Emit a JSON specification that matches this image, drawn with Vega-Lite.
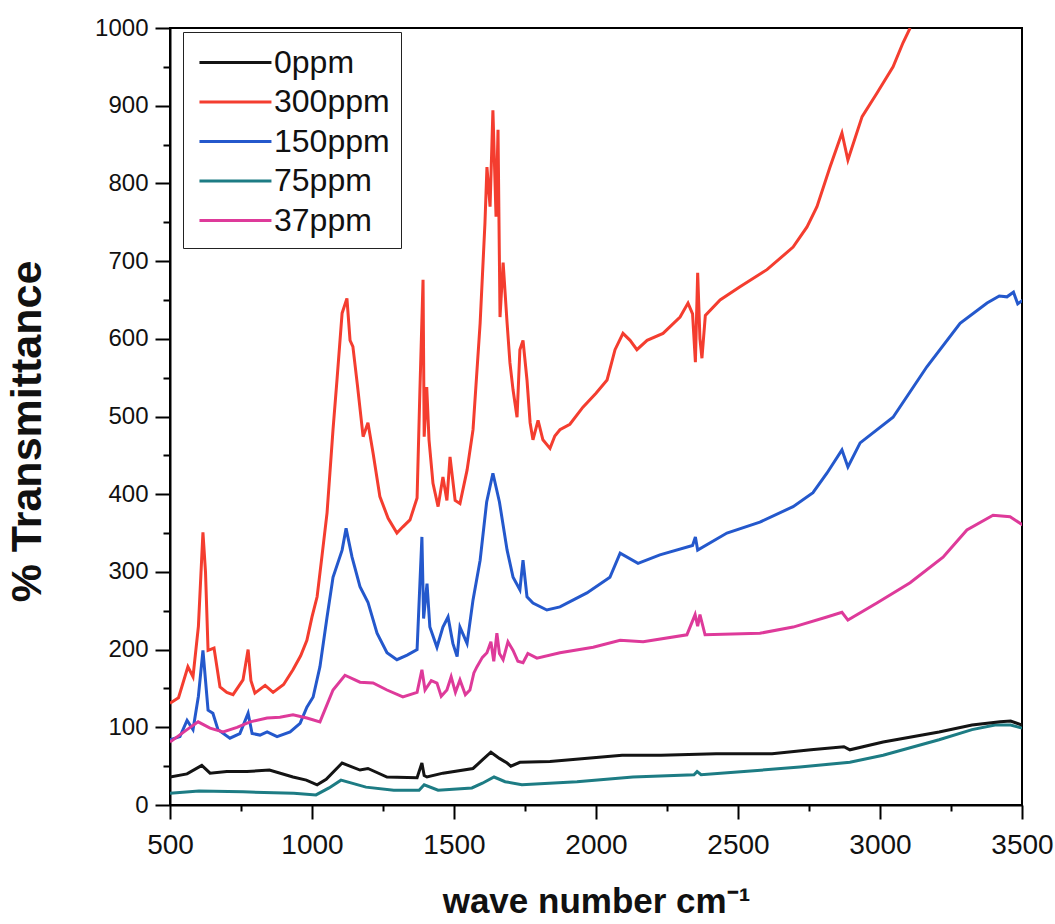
{
  "$schema": "https://vega.github.io/schema/vega-lite/v6.json",
  "width": 852,
  "height": 777,
  "autosize": "none",
  "padding": {"left": 170, "top": 28, "right": 33, "bottom": 119},
  "background": "white",
  "config": {
    "view": {"stroke": "black", "strokeWidth": 2},
    "font": "Liberation Sans, Arial, sans-serif"
  },
  "datasets": {
    "spec": [
      {"s":"300ppm","x":500,"y":131},{"s":"300ppm","x":530,"y":138},{"s":"300ppm","x":563,"y":178},{"s":"300ppm","x":581,"y":165},{"s":"300ppm","x":600,"y":230},{"s":"300ppm","x":616,"y":351},{"s":"300ppm","x":625,"y":300},{"s":"300ppm","x":634,"y":199},{"s":"300ppm","x":655,"y":202},{"s":"300ppm","x":676,"y":152},{"s":"300ppm","x":700,"y":145},{"s":"300ppm","x":722,"y":142},{"s":"300ppm","x":757,"y":161},{"s":"300ppm","x":775,"y":200},{"s":"300ppm","x":785,"y":160},{"s":"300ppm","x":799,"y":144},{"s":"300ppm","x":835,"y":154},{"s":"300ppm","x":863,"y":145},{"s":"300ppm","x":900,"y":155},{"s":"300ppm","x":933,"y":174},{"s":"300ppm","x":960,"y":192},{"s":"300ppm","x":982,"y":212},{"s":"300ppm","x":1000,"y":242},{"s":"300ppm","x":1018,"y":268},{"s":"300ppm","x":1035,"y":320},{"s":"300ppm","x":1053,"y":376},{"s":"300ppm","x":1074,"y":483},{"s":"300ppm","x":1088,"y":547},{"s":"300ppm","x":1106,"y":633},{"s":"300ppm","x":1123,"y":652},{"s":"300ppm","x":1134,"y":598},{"s":"300ppm","x":1144,"y":590},{"s":"300ppm","x":1160,"y":540},{"s":"300ppm","x":1180,"y":474},{"s":"300ppm","x":1197,"y":492},{"s":"300ppm","x":1215,"y":453},{"s":"300ppm","x":1239,"y":397},{"s":"300ppm","x":1268,"y":369},{"s":"300ppm","x":1299,"y":350},{"s":"300ppm","x":1320,"y":358},{"s":"300ppm","x":1345,"y":367},{"s":"300ppm","x":1370,"y":395},{"s":"300ppm","x":1380,"y":534},{"s":"300ppm","x":1391,"y":676},{"s":"300ppm","x":1395,"y":474},{"s":"300ppm","x":1404,"y":538},{"s":"300ppm","x":1412,"y":470},{"s":"300ppm","x":1426,"y":414},{"s":"300ppm","x":1444,"y":384},{"s":"300ppm","x":1461,"y":422},{"s":"300ppm","x":1475,"y":392},{"s":"300ppm","x":1486,"y":448},{"s":"300ppm","x":1504,"y":392},{"s":"300ppm","x":1521,"y":388},{"s":"300ppm","x":1546,"y":431},{"s":"300ppm","x":1567,"y":483},{"s":"300ppm","x":1592,"y":620},{"s":"300ppm","x":1609,"y":749},{"s":"300ppm","x":1616,"y":821},{"s":"300ppm","x":1627,"y":770},{"s":"300ppm","x":1637,"y":894},{"s":"300ppm","x":1648,"y":757},{"s":"300ppm","x":1655,"y":869},{"s":"300ppm","x":1662,"y":628},{"s":"300ppm","x":1673,"y":698},{"s":"300ppm","x":1687,"y":620},{"s":"300ppm","x":1697,"y":569},{"s":"300ppm","x":1708,"y":534},{"s":"300ppm","x":1722,"y":499},{"s":"300ppm","x":1732,"y":586},{"s":"300ppm","x":1743,"y":598},{"s":"300ppm","x":1757,"y":547},{"s":"300ppm","x":1768,"y":492},{"s":"300ppm","x":1778,"y":470},{"s":"300ppm","x":1796,"y":495},{"s":"300ppm","x":1813,"y":470},{"s":"300ppm","x":1838,"y":459},{"s":"300ppm","x":1855,"y":475},{"s":"300ppm","x":1873,"y":483},{"s":"300ppm","x":1908,"y":490},{"s":"300ppm","x":1954,"y":512},{"s":"300ppm","x":2000,"y":530},{"s":"300ppm","x":2039,"y":547},{"s":"300ppm","x":2067,"y":586},{"s":"300ppm","x":2095,"y":607},{"s":"300ppm","x":2120,"y":598},{"s":"300ppm","x":2144,"y":586},{"s":"300ppm","x":2180,"y":598},{"s":"300ppm","x":2236,"y":607},{"s":"300ppm","x":2296,"y":628},{"s":"300ppm","x":2324,"y":646},{"s":"300ppm","x":2340,"y":632},{"s":"300ppm","x":2350,"y":570},{"s":"300ppm","x":2358,"y":685},{"s":"300ppm","x":2366,"y":600},{"s":"300ppm","x":2373,"y":575},{"s":"300ppm","x":2385,"y":630},{"s":"300ppm","x":2437,"y":650},{"s":"300ppm","x":2507,"y":667},{"s":"300ppm","x":2602,"y":689},{"s":"300ppm","x":2694,"y":718},{"s":"300ppm","x":2743,"y":744},{"s":"300ppm","x":2778,"y":770},{"s":"300ppm","x":2824,"y":821},{"s":"300ppm","x":2866,"y":865},{"s":"300ppm","x":2887,"y":830},{"s":"300ppm","x":2937,"y":886},{"s":"300ppm","x":2989,"y":916},{"s":"300ppm","x":3046,"y":950},{"s":"300ppm","x":3081,"y":981},{"s":"300ppm","x":3106,"y":1000},

      {"s":"150ppm","x":500,"y":84},{"s":"150ppm","x":535,"y":88},{"s":"150ppm","x":560,"y":109},{"s":"150ppm","x":581,"y":97},{"s":"150ppm","x":600,"y":140},{"s":"150ppm","x":616,"y":199},{"s":"150ppm","x":634,"y":122},{"s":"150ppm","x":651,"y":118},{"s":"150ppm","x":669,"y":97},{"s":"150ppm","x":711,"y":86},{"s":"150ppm","x":746,"y":92},{"s":"150ppm","x":775,"y":118},{"s":"150ppm","x":789,"y":92},{"s":"150ppm","x":817,"y":90},{"s":"150ppm","x":842,"y":94},{"s":"150ppm","x":877,"y":88},{"s":"150ppm","x":923,"y":94},{"s":"150ppm","x":958,"y":105},{"s":"150ppm","x":982,"y":126},{"s":"150ppm","x":1004,"y":139},{"s":"150ppm","x":1028,"y":178},{"s":"150ppm","x":1053,"y":242},{"s":"150ppm","x":1074,"y":293},{"s":"150ppm","x":1106,"y":328},{"s":"150ppm","x":1120,"y":356},{"s":"150ppm","x":1141,"y":319},{"s":"150ppm","x":1169,"y":281},{"s":"150ppm","x":1197,"y":261},{"s":"150ppm","x":1229,"y":221},{"s":"150ppm","x":1264,"y":196},{"s":"150ppm","x":1299,"y":187},{"s":"150ppm","x":1335,"y":193},{"s":"150ppm","x":1370,"y":200},{"s":"150ppm","x":1387,"y":345},{"s":"150ppm","x":1393,"y":240},{"s":"150ppm","x":1405,"y":285},{"s":"150ppm","x":1415,"y":229},{"s":"150ppm","x":1440,"y":203},{"s":"150ppm","x":1461,"y":229},{"s":"150ppm","x":1479,"y":242},{"s":"150ppm","x":1496,"y":208},{"s":"150ppm","x":1511,"y":191},{"s":"150ppm","x":1521,"y":229},{"s":"150ppm","x":1546,"y":208},{"s":"150ppm","x":1567,"y":264},{"s":"150ppm","x":1592,"y":315},{"s":"150ppm","x":1615,"y":390},{"s":"150ppm","x":1637,"y":427},{"s":"150ppm","x":1660,"y":390},{"s":"150ppm","x":1687,"y":328},{"s":"150ppm","x":1708,"y":293},{"s":"150ppm","x":1732,"y":277},{"s":"150ppm","x":1743,"y":315},{"s":"150ppm","x":1757,"y":268},{"s":"150ppm","x":1778,"y":260},{"s":"150ppm","x":1827,"y":251},{"s":"150ppm","x":1873,"y":255},{"s":"150ppm","x":1968,"y":273},{"s":"150ppm","x":2049,"y":293},{"s":"150ppm","x":2085,"y":324},{"s":"150ppm","x":2148,"y":311},{"s":"150ppm","x":2225,"y":322},{"s":"150ppm","x":2340,"y":334},{"s":"150ppm","x":2350,"y":345},{"s":"150ppm","x":2358,"y":328},{"s":"150ppm","x":2461,"y":350},{"s":"150ppm","x":2577,"y":364},{"s":"150ppm","x":2694,"y":384},{"s":"150ppm","x":2764,"y":402},{"s":"150ppm","x":2813,"y":427},{"s":"150ppm","x":2866,"y":457},{"s":"150ppm","x":2887,"y":435},{"s":"150ppm","x":2930,"y":466},{"s":"150ppm","x":3046,"y":499},{"s":"150ppm","x":3165,"y":564},{"s":"150ppm","x":3282,"y":620},{"s":"150ppm","x":3377,"y":646},{"s":"150ppm","x":3420,"y":655},{"s":"150ppm","x":3447,"y":654},{"s":"150ppm","x":3470,"y":660},{"s":"150ppm","x":3485,"y":645},{"s":"150ppm","x":3504,"y":650},

      {"s":"37ppm","x":500,"y":81},{"s":"37ppm","x":560,"y":97},{"s":"37ppm","x":599,"y":107},{"s":"37ppm","x":641,"y":99},{"s":"37ppm","x":687,"y":94},{"s":"37ppm","x":736,"y":100},{"s":"37ppm","x":782,"y":107},{"s":"37ppm","x":842,"y":112},{"s":"37ppm","x":887,"y":113},{"s":"37ppm","x":933,"y":116},{"s":"37ppm","x":982,"y":112},{"s":"37ppm","x":1028,"y":107},{"s":"37ppm","x":1074,"y":148},{"s":"37ppm","x":1116,"y":167},{"s":"37ppm","x":1169,"y":158},{"s":"37ppm","x":1215,"y":157},{"s":"37ppm","x":1264,"y":148},{"s":"37ppm","x":1320,"y":139},{"s":"37ppm","x":1370,"y":145},{"s":"37ppm","x":1387,"y":174},{"s":"37ppm","x":1398,"y":148},{"s":"37ppm","x":1420,"y":160},{"s":"37ppm","x":1440,"y":157},{"s":"37ppm","x":1455,"y":140},{"s":"37ppm","x":1475,"y":148},{"s":"37ppm","x":1490,"y":165},{"s":"37ppm","x":1505,"y":145},{"s":"37ppm","x":1521,"y":161},{"s":"37ppm","x":1540,"y":142},{"s":"37ppm","x":1556,"y":148},{"s":"37ppm","x":1570,"y":170},{"s":"37ppm","x":1581,"y":178},{"s":"37ppm","x":1600,"y":190},{"s":"37ppm","x":1616,"y":196},{"s":"37ppm","x":1630,"y":210},{"s":"37ppm","x":1640,"y":185},{"s":"37ppm","x":1651,"y":221},{"s":"37ppm","x":1660,"y":195},{"s":"37ppm","x":1673,"y":187},{"s":"37ppm","x":1690,"y":210},{"s":"37ppm","x":1708,"y":199},{"s":"37ppm","x":1725,"y":185},{"s":"37ppm","x":1743,"y":183},{"s":"37ppm","x":1760,"y":195},{"s":"37ppm","x":1792,"y":189},{"s":"37ppm","x":1873,"y":196},{"s":"37ppm","x":1990,"y":203},{"s":"37ppm","x":2085,"y":212},{"s":"37ppm","x":2166,"y":210},{"s":"37ppm","x":2320,"y":219},{"s":"37ppm","x":2349,"y":245},{"s":"37ppm","x":2358,"y":230},{"s":"37ppm","x":2366,"y":245},{"s":"37ppm","x":2384,"y":219},{"s":"37ppm","x":2577,"y":221},{"s":"37ppm","x":2694,"y":229},{"s":"37ppm","x":2813,"y":242},{"s":"37ppm","x":2866,"y":248},{"s":"37ppm","x":2887,"y":238},{"s":"37ppm","x":2989,"y":260},{"s":"37ppm","x":3106,"y":286},{"s":"37ppm","x":3222,"y":319},{"s":"37ppm","x":3306,"y":354},{"s":"37ppm","x":3398,"y":373},{"s":"37ppm","x":3458,"y":371},{"s":"37ppm","x":3504,"y":360},

      {"s":"75ppm","x":500,"y":15},{"s":"75ppm","x":602,"y":18},{"s":"75ppm","x":757,"y":17},{"s":"75ppm","x":936,"y":15},{"s":"75ppm","x":1014,"y":13},{"s":"75ppm","x":1060,"y":22},{"s":"75ppm","x":1102,"y":32},{"s":"75ppm","x":1190,"y":23},{"s":"75ppm","x":1288,"y":19},{"s":"75ppm","x":1377,"y":19},{"s":"75ppm","x":1395,"y":26},{"s":"75ppm","x":1444,"y":19},{"s":"75ppm","x":1563,"y":22},{"s":"75ppm","x":1600,"y":28},{"s":"75ppm","x":1641,"y":36},{"s":"75ppm","x":1680,"y":30},{"s":"75ppm","x":1739,"y":26},{"s":"75ppm","x":1933,"y":30},{"s":"75ppm","x":2130,"y":36},{"s":"75ppm","x":2345,"y":39},{"s":"75ppm","x":2356,"y":43},{"s":"75ppm","x":2370,"y":39},{"s":"75ppm","x":2521,"y":43},{"s":"75ppm","x":2718,"y":49},{"s":"75ppm","x":2894,"y":55},{"s":"75ppm","x":3011,"y":64},{"s":"75ppm","x":3208,"y":84},{"s":"75ppm","x":3324,"y":97},{"s":"75ppm","x":3405,"y":103},{"s":"75ppm","x":3460,"y":103},{"s":"75ppm","x":3500,"y":99},

      {"s":"0ppm","x":500,"y":36},{"s":"0ppm","x":560,"y":40},{"s":"0ppm","x":612,"y":51},{"s":"0ppm","x":641,"y":41},{"s":"0ppm","x":700,"y":43},{"s":"0ppm","x":771,"y":43},{"s":"0ppm","x":850,"y":45},{"s":"0ppm","x":933,"y":36},{"s":"0ppm","x":980,"y":32},{"s":"0ppm","x":1018,"y":26},{"s":"0ppm","x":1050,"y":33},{"s":"0ppm","x":1106,"y":54},{"s":"0ppm","x":1169,"y":45},{"s":"0ppm","x":1197,"y":47},{"s":"0ppm","x":1264,"y":36},{"s":"0ppm","x":1370,"y":35},{"s":"0ppm","x":1387,"y":54},{"s":"0ppm","x":1395,"y":38},{"s":"0ppm","x":1405,"y":36},{"s":"0ppm","x":1461,"y":41},{"s":"0ppm","x":1567,"y":47},{"s":"0ppm","x":1600,"y":58},{"s":"0ppm","x":1630,"y":68},{"s":"0ppm","x":1660,"y":60},{"s":"0ppm","x":1687,"y":54},{"s":"0ppm","x":1700,"y":50},{"s":"0ppm","x":1732,"y":55},{"s":"0ppm","x":1838,"y":56},{"s":"0ppm","x":2092,"y":64},{"s":"0ppm","x":2229,"y":64},{"s":"0ppm","x":2423,"y":66},{"s":"0ppm","x":2620,"y":66},{"s":"0ppm","x":2757,"y":71},{"s":"0ppm","x":2873,"y":75},{"s":"0ppm","x":2894,"y":71},{"s":"0ppm","x":3011,"y":81},{"s":"0ppm","x":3208,"y":94},{"s":"0ppm","x":3324,"y":103},{"s":"0ppm","x":3423,"y":107},{"s":"0ppm","x":3460,"y":108},{"s":"0ppm","x":3500,"y":103}
    ]
  },
  "data": {"name": "spec"},
  "mark": {"type": "line", "strokeWidth": 3, "clip": true, "interpolate": "linear"},
  "encoding": {
    "x": {
      "field": "x", "type": "quantitative",
      "scale": {"domain": [500, 3500], "nice": false},
      "axis": {
        "title": "wave number cm⁻¹",
        "titleFont": "Liberation Sans, Arial, sans-serif", "titleFontSize": 35, "titleFontWeight": "bold", "titleColor": "#111",
        "titlePadding": 25,
        "values": [500,750,1000,1250,1500,1750,2000,2250,2500,2750,3000,3250,3500],
        "labelExpr": "datum.value % 500 === 0 ? format(datum.value, 'd') : ''",
        "labelFont": "Liberation Sans Narrow, Liberation Sans, Arial, sans-serif", "labelFontSize": 28, "labelColor": "#111", "labelPadding": 12,
        "labelFlush": false, "labelOverlap": false,
        "tickSize": {"condition": {"test": "datum.value % 500 !== 0", "value": 6}, "value": 14},
        "tickColor": "black", "tickWidth": 2,
        "domainColor": "black", "domainWidth": 2, "grid": false
      }
    },
    "y": {
      "field": "y", "type": "quantitative",
      "scale": {"domain": [0, 1000], "nice": false},
      "axis": {
        "title": "% Transmittance",
        "titleFont": "Liberation Sans, Arial, sans-serif", "titleFontSize": 43, "titleFontWeight": "bold", "titleColor": "#111",
        "titlePadding": 45,
        "titleY": 403,
        "values": [0,50,100,150,200,250,300,350,400,450,500,550,600,650,700,750,800,850,900,950,1000],
        "labelExpr": "datum.value % 100 === 0 ? format(datum.value, 'd') : ''",
        "labelFont": "Liberation Sans, Arial, sans-serif", "labelFontSize": 24, "labelColor": "#111", "labelPadding": 7,
        "labelFlush": false, "labelOverlap": false,
        "tickSize": {"condition": {"test": "datum.value % 100 !== 0", "value": 7}, "value": 15},
        "tickColor": "black", "tickWidth": 2,
        "domainColor": "black", "domainWidth": 2, "grid": false
      }
    },
    "color": {
      "field": "s", "type": "nominal",
      "sort": ["0ppm", "300ppm", "150ppm", "75ppm", "37ppm"],
      "scale": {
        "domain": ["0ppm", "300ppm", "150ppm", "75ppm", "37ppm"],
        "range": ["#141414", "#f43d2f", "#2458cc", "#1d7c84", "#de3a9a"]
      },
      "legend": {
        "title": null,
        "orient": "none",
        "legendX": 13,
        "legendY": 4,
        "direction": "vertical",
        "strokeColor": "#222",
        "padding": 11,
        "symbolType": "M-0.78,0H3.22",
        "symbolSize": 1296,
        "symbolStrokeWidth": 3,
        "labelFont": "Liberation Sans, Arial, sans-serif",
        "labelFontSize": 32,
        "labelColor": "#111",
        "labelOffset": 41,
        "rowPadding": 3.5
      }
    }
  }
}
